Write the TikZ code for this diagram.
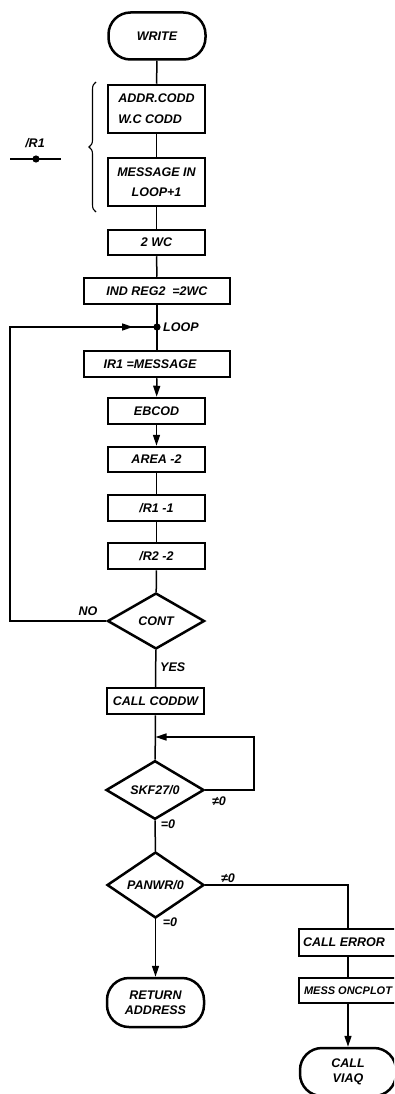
\documentclass[tikz,border=0pt]{standalone}
\usepackage{fontspec}
\setmainfont{Liberation Sans}
\usetikzlibrary{shapes.geometric,arrows.meta,decorations.pathreplacing}
\begin{document}
\begin{tikzpicture}[x=1pt,y=-1pt,
  font=\fontsize{12.5}{14}\selectfont\bfseries\itshape,
  box/.style={draw,line width=2.5pt,rectangle,minimum width=97pt,minimum height=26pt,inner sep=1pt,align=center},
  term/.style={draw,line width=2.5pt,rectangle,rounded corners=22pt,minimum width=97pt,minimum height=47pt,align=center,font=\fontsize{12.5}{15}\selectfont\bfseries\itshape},
  dec/.style={draw,diamond,line width=2.5pt,minimum width=97pt,minimum height=56pt,inner sep=0pt},
  conn/.style={line width=1.5pt},
  arr/.style={conn,-{Triangle[length=11pt,width=7pt]}},
  lab/.style={inner sep=0pt}]
\useasboundingbox (0,0) rectangle (394,1094);
\clip (0,0) rectangle (394,1094);

% main column
\node[term] (write) at (157,36) {WRITE};
\node[box,minimum height=48pt,align=left,font=\fontsize{12.5}{21}\selectfont\bfseries\itshape] (addr) at (156.5,109) {ADDR.CODD\\W.C CODD\hspace{9pt}};
\node[box,minimum height=48pt,font=\fontsize{12.5}{20}\selectfont\bfseries\itshape] (mess) at (156.5,182) {MESSAGE IN\\LOOP+1};
\node[box,minimum height=25pt] (wc) at (156.5,242.5) {2 WC};
\node[box,minimum width=146pt] (indreg) at (157,291) {IND REG2\ \ =2WC};
\fill (157,327) circle (3.6pt) coordinate (loopdot);
\node[lab,anchor=west] (looplab) at (163,327) {LOOP};
\node[box,minimum width=146pt] (irmsg) at (157,364) {IR1 =MESSAGE\hspace{14pt}};
\node[box] (ebcod) at (156.5,411) {EBCOD};
\node[box,minimum height=25pt] (area) at (156.5,459.5) {AREA -2};
\node[box] (ir11) at (156.5,508) {/R1 -1};
\node[box] (ir22) at (156.5,556) {/R2 -2};
\node[dec] (cont) at (156,621) {CONT};
\node[lab] (nolab) at (88,611) {NO};
\node[lab,anchor=west] (yeslab) at (160,667) {YES};
\node[box] (coddw) at (155.5,701) {CALL CODDW};
\node[dec,minimum width=98pt] (skf) at (155,790) {SKF27/0};
\node[lab] (skfne) at (219,801) {≠0};
\node[lab] (skfeq) at (168,824) {=0};
\node[dec] (panwr) at (155.5,885) {PANWR/0};
\node[lab] (panne) at (228,878) {≠0};
\node[lab] (paneq) at (170,922) {=0};
\node[term,minimum height=49pt] (ret) at (155.5,1002.5) {RETURN\\ADDRESS};

% right column
\node[box,minimum width=98pt,minimum height=27pt,align=left] (cerr) at (348,942.5) {CALL ERROR\hspace{8pt}};
\node[box,minimum width=98pt,minimum height=25pt,font=\fontsize{11}{13}\selectfont\bfseries\itshape] (monc) at (348,990.5) {MESS ONCPLOT};
\node[term,minimum width=96pt,minimum height=48pt] (viaq) at (348,1072) {CALL\\VIAQ};

% IR1 mark and brace
\coordinate (irl) at (10,159);
\coordinate (irr) at (61,159);
\draw[conn] (irl) -- (irr);
\fill (36,159) circle (3.6pt) coordinate (irdot);
\node[lab] (irlab) at (35,143) {/R1};
\coordinate (brb) at (96,212);
\coordinate (brt) at (96,82);
\draw[line width=1.1pt,decorate,decoration={brace,amplitude=7pt}] (brb) -- (brt);

% connectors
\draw[conn] (write) -- (addr);
\draw[conn] (addr) -- (mess);
\draw[conn] (mess) -- (wc);
\draw[conn] (wc) -- (indreg);
\draw[conn] (indreg.south) -- (loopdot) -- (irmsg.north);
\draw[arr] (irmsg) -- (ebcod);
\draw[arr] (ebcod) -- (area);
\draw[conn] (area) -- (ir11);
\draw[conn] (ir11) -- (ir22);
\draw[conn] (ir22) -- (cont);
\coordinate (lb) at (10,621);
\coordinate (lt) at (10,327);
\coordinate (la) at (133,327);
\draw[conn] (cont.west) -- (lb) -- (lt) -- (loopdot);
\draw[arr] (lt) -- (la);
\draw[conn] (cont) -- (coddw);
\draw[conn] (coddw) -- (skf);
\coordinate (sr) at (254,790);
\coordinate (srt) at (254,737);
\coordinate (sj) at (155.5,737);
\draw[arr] (skf.east) -- (sr) -- (srt) -- (sj);
\draw[conn] (skf) -- (panwr);
\draw[arr] (panwr) -- (ret);
\coordinate (pr) at (348,885);
\draw[conn] (panwr.east) -- (pr) -- (cerr.north);
\draw[conn] (cerr) -- (monc);
\draw[arr] (monc) -- (viaq);
\end{tikzpicture}
\end{document}
